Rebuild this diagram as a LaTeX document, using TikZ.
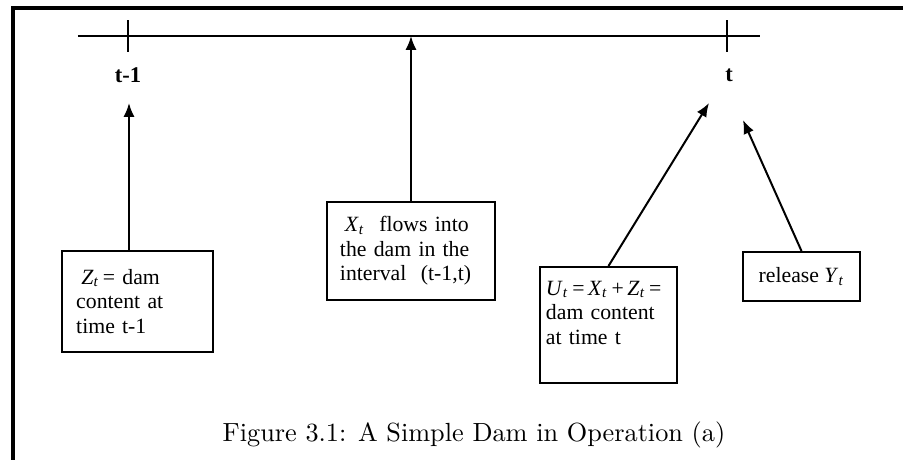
\documentclass[tikz,border=0pt]{standalone}
\usepackage{fontspec}
\newfontfamily\timesfont{Liberation Serif}
\usetikzlibrary{arrows.meta,positioning}
\newcommand\vart[1]{\textit{#1}\textsubscript{\textit{t}}}

\tikzset{
  dambox/.style={draw, line width=0.8pt, align=left, inner ysep=0pt,
    font=\timesfont\fontsize{8.7}{9.8}\selectfont},
  flow/.style={-{Latex[length=5.5pt,width=4.4pt]}, line width=0.8pt},
  ticklabel/.style={font=\timesfont\bfseries\fontsize{9}{11}\selectfont}
}

\begin{document}
\begin{tikzpicture}[x=0.4pt,y=-0.4pt]
    \useasboundingbox (0,0) rectangle (903,460);
    % frame
    \draw[line width=1.4pt] (903,8) -- (13,8) -- (13,460);

    % time axis
    \coordinate (axisL) at (78,36);
    \coordinate (axisR) at (760,36);
    \coordinate (tickA) at (128,36);
    \coordinate (tickB) at (727,36);
    \draw[line width=0.9pt] (axisL) -- (axisR);
    \draw[line width=0.9pt] (tickA) ++(0,-16) -- ++(0,32);
    \draw[line width=0.9pt] (tickB) ++(0,-16) -- ++(0,32);
    \node[ticklabel] (tprev) at (128,75) {t-1};
    \node[ticklabel] (tnow) at (729,75) {t};

    % boxes
    \node[dambox, text width=49pt, minimum height=40.4pt, inner xsep=5.6pt] (zbox) at (137.5,301.5)
        {\hspace{2pt}\vart{Z}\,= dam\\content at\\time t-1};
    \node[dambox, text width=56.8pt, minimum height=39.2pt, inner xsep=5.2pt] (xbox) at (411,251)
        {\hspace{2pt}\vart{X}\ \ flows into\\the dam in the\\interval\ \ (t-1,t)};
    \node[dambox, text width=50pt, minimum height=46.4pt, inner xsep=2.4pt] (ubox) at (608.5,325)
        {\mbox{\vart{U}\,=\,\vart{X}\,+\,\vart{Z}\,=}\\dam content\\at time t\\\mbox{}};
    \node[dambox, align=center, minimum width=46.8pt, minimum height=19.6pt] (ybox) at (801.5,276.5)
        {release \vart{Y}};

    % arrows
    \coordinate (zhead) at (129,103);
    \coordinate (uhead) at (709,103);
    \coordinate (yhead) at (743,120);
    \draw[flow] (zbox.north -| zhead) -- (zhead);
    \draw[flow] (xbox.north) -- (xbox.north |- axisL);
    \draw[flow] (ubox.north) -- (uhead);
    \draw[flow] (ybox.north) -- (yhead);

    \node[font=\fontsize{10.5}{13}\selectfont] (caption) at (474,435)
        {Figure 3.1: A Simple Dam in Operation (a)};
\end{tikzpicture}
\end{document}
